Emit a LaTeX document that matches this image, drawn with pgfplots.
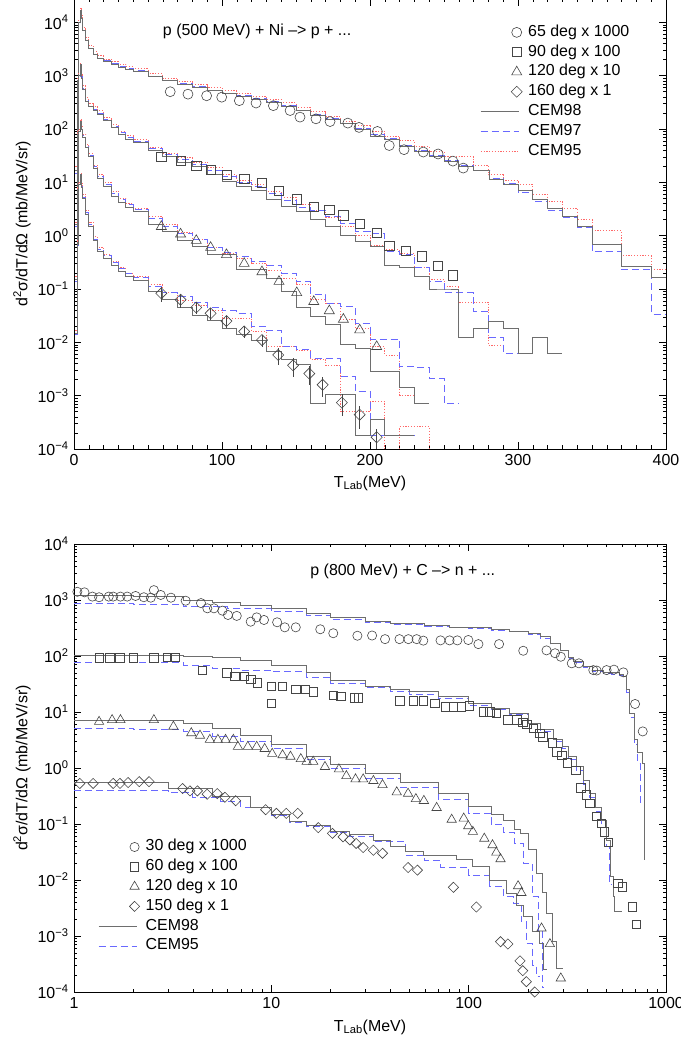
\documentclass[border=0pt]{standalone}
\usepackage{fontspec}
\setmainfont{Liberation Sans}
\usepackage{pgfplots}
\pgfplotsset{compat=1.18}
\definecolor{cgray}{RGB}{110,110,110}
\definecolor{cblue}{RGB}{105,105,255}
\definecolor{cred}{RGB}{255,105,105}
\definecolor{cmark}{RGB}{70,70,70}
\pgfplotsset{
 every axis/.append style={scale only axis, width=592bp, ymode=log, ymin=1e-4,
   ytick={1e-4,1e-3,1e-2,1e-1,1,10,100,1000,10000},
   yticklabels={10\textsuperscript{−4},10\textsuperscript{−3},10\textsuperscript{−2},10\textsuperscript{−1},10\textsuperscript{0},10\textsuperscript{1},10\textsuperscript{2},10\textsuperscript{3},10\textsuperscript{4}},
   tick align=inside, major tick length=7bp, minor tick length=3.5bp,
   tick style={black, line width=0.5bp},
   axis line style={black, line width=0.8bp},
   tick label style={font=\fontsize{16}{19}\selectfont},
   label style={font=\fontsize{16}{19}\selectfont},
   ylabel={d\textsuperscript{2}σ/dT/dΩ (mb/MeV/sr)},
   ylabel style={at={(axis description cs:-0.088,0.5)}, anchor=center},
   xlabel={T\textsubscript{Lab}(MeV)},
   legend cell align=left,
   legend style={draw=none, fill=none, inner sep=0pt, font=\fontsize{16}{19}\selectfont,
     nodes={inner sep=0pt, text height=12bp, text depth=4bp},
     row sep=3.8bp, /tikz/every odd column/.append style={column sep=6bp}},
 },
 lleg/.style={legend image code/.code={\path[draw=none,fill=none] (0bp,-6bp) rectangle (38bp,6bp); \draw[##1, #1, line width=0.8bp] (0bp,0bp) -- (38bp,0bp);}},
 mleg/.style={legend image code/.code={\path[draw=none,fill=none] (0bp,-6bp) rectangle (38bp,6bp); \draw[##1] plot coordinates {(36bp,0bp)};}},
 cemA/.style={const plot, color=cgray, line width=0.8bp, mark=none, solid},
 cemB/.style={const plot, color=cblue, line width=0.8bp, mark=none, dash pattern=on 7bp off 4bp},
 cemC/.style={const plot, color=cred, line width=0.8bp, mark=none, dash pattern=on 1.2bp off 1.6bp},
 mcirc/.style={only marks, mark=o, mark size=5bp, mark options={solid, draw=cmark, fill=none, line width=0.6bp}},
 msq/.style={only marks, mark=square, mark size=4.6bp, mark options={solid, draw=cmark, fill=none, line width=0.6bp}},
 mtri/.style={only marks, mark=triangle, mark size=5.8bp, mark options={solid, draw=cmark, fill=none, line width=0.6bp}},
 mdia/.style={only marks, mark=square, mark size=3.9bp, mark options={solid, draw=cmark, fill=none, line width=0.6bp, rotate=45}},
}
\begin{document}
\fontsize{16}{19}\selectfont
\begin{tikzpicture}[x=1bp,y=1bp]
\useasboundingbox (0,0) rectangle (681,1037);
% ================= TOP =================
\begin{axis}[at={(74bp,588bp)}, anchor=south west, height=450bp,
  xmin=0, xmax=400, ymax=27400,
  xtick={0,100,200,300,400}, xticklabels={0,100,200,300,400}, minor x tick num=9,
  xlabel style={at={(axis description cs:0.5,-0.0756)}, anchor=center},
  legend style={at={(rel axis cs:0.686,0.944)}, anchor=north west}]
\addlegendimage{mcirc, mleg}\addlegendentry{65 deg x 1000}
\addlegendimage{msq, mleg}\addlegendentry{90 deg x 100}
\addlegendimage{mtri, mleg}\addlegendentry{120 deg x 10}
\addlegendimage{mdia, mleg}\addlegendentry{160 deg x 1}
\addlegendimage{cemA, lleg={draw=cgray, solid}}\addlegendentry{CEM98}
\addlegendimage{cemB, lleg={draw=cblue, dash pattern=on 7bp off 4bp}}\addlegendentry{CEM97}
\addlegendimage{cemC, lleg={draw=cred, dash pattern=on 1.2bp off 1.6bp}}\addlegendentry{CEM95}
\node[anchor=west, inner sep=0pt, font=\fontsize{16}{19}\selectfont] at (rel axis cs:0.150,0.927) {p (500 MeV) + Ni –> p + ...};
% group 1 (65 deg x 1000)
\addplot[cemC, forget plot] coordinates {(1,20)(2,900)(3,11000)(4,18000)(5,13500)(6,8000)(8,5200)(10,3700)(13,2800)(16,2350)(20,2050)(25,1850)(30,1650)(35,1480)(40,1350)(50,1080)(60,900)(70,790)(80,680)(90,590)(100,520)(110,460)(120,410)(130,360)(140,310)(150,255)(160,210)(170,170)(180,140)(190,115)(200,92)(210,74)(220,60)(230,47)(240,38)(250,30)(260,30)(270,20.7)(280,13.9)(290,11)(300,9.0)(310,6.0)(320,4.4)(330,3.3)(340,2.0)(350,1.23)(370,0.42)(390,0.23)(400,0.23)};
\addplot[cemB, forget plot] coordinates {(1,15)(2,750)(3,9500)(4,17000)(5,12000)(6,7200)(8,4600)(10,3300)(13,2550)(16,2150)(20,1900)(25,1700)(30,1500)(35,1350)(40,1230)(50,980)(60,820)(70,720)(80,620)(90,540)(100,470)(110,420)(120,370)(130,330)(140,280)(150,225)(160,185)(170,155)(180,128)(190,103)(200,78)(210,68)(220,50)(230,40)(240,32)(250,26)(260,21)(270,17)(281,12)(290,9.5)(300,6.5)(310,4.4)(320,3.0)(330,2.2)(340,1.4)(350,0.5)(370,0.23)(390,0.034)(400,0.034)};
\addplot[cemA, forget plot] coordinates {(1,17)(2,800)(3,10000)(4,17000)(5,12000)(6,7000)(8,4500)(10,3200)(13,2500)(16,2100)(20,1850)(25,1650)(30,1450)(35,1300)(40,1200)(50,950)(60,800)(70,700)(80,600)(90,520)(100,460)(110,410)(120,360)(130,320)(140,270)(150,220)(160,180)(170,150)(180,125)(190,100)(200,74)(210,65)(220,47)(230,38)(240,31)(250,25)(260,20)(270,16.6)(281,11.5)(290,9.2)(300,7.0)(310,4.7)(320,3.2)(330,2.3)(340,1.5)(350,0.69)(370,0.26)(390,0.166)(400,0.166)};
% group 2 (90 deg x 100)
\addplot[cemC, forget plot] coordinates {(1,1.8)(2,90)(3,1100)(4,1700)(5,1050)(6,650)(8,390)(10,300)(13,260)(16,220)(20,165)(25,120)(30,92)(35,75)(40,63)(50,46)(60,35)(70,29)(80,24)(90,19)(100,14)(110,11)(120,9)(130,6.8)(140,5.2)(150,3.9)(160,3.0)(170,2.2)(180,1.5)(190,1.03)(200,0.67)(210,0.55)(220,0.46)(230,0.25)(240,0.15)(250,0.11)(260,0.057)(270,0.057)(280,0.0087)(290,0.0087)};
\addplot[cemB, forget plot] coordinates {(1,1.5)(2,75)(3,950)(4,1600)(5,950)(6,580)(8,350)(10,270)(13,235)(16,200)(20,150)(25,110)(30,85)(35,70)(40,58)(50,43)(60,33)(70,27)(80,22)(90,17)(100,13)(110,10)(120,8.5)(130,6.2)(140,4.6)(150,3.4)(160,3.0)(170,2.3)(180,1.7)(190,1.2)(200,1.1)(210,0.5)(220,0.44)(230,0.25)(240,0.14)(250,0.085)(260,0.085)(270,0.038)(280,0.0126)(290,0.0063)(310,0.0063)};
\addplot[cemA, forget plot] coordinates {(1,1.6)(2,80)(3,1000)(4,1600)(5,900)(6,550)(8,330)(10,260)(13,225)(16,190)(20,145)(25,105)(30,80)(35,65)(40,55)(50,40)(60,30)(70,24)(80,19.5)(90,14)(100,10.3)(110,8.3)(120,7.0)(130,4.8)(140,3.6)(150,2.8)(160,2.0)(170,1.5)(180,1.0)(190,0.78)(200,0.63)(210,0.28)(220,0.25)(230,0.17)(240,0.10)(250,0.10)(260,0.0126)(270,0.018)(280,0.025)(290,0.018)(300,0.0062)(310,0.0126)(320,0.0062)(330,0.0062)};
% group 3 (120 deg x 10)
\addplot[cemC, forget plot] coordinates {(1,0.17)(2,8)(3,100)(4,150)(5,115)(6,80)(8,52)(10,35)(13,21)(16,14)(20,10)(25,6.8)(30,5.1)(35,4.0)(40,3.3)(50,2.3)(60,1.6)(70,1.15)(80,0.85)(90,0.6)(100,0.47)(110,0.37)(120,0.3)(130,0.22)(140,0.16)(150,0.12)(160,0.064)(170,0.054)(180,0.027)(190,0.0183)(200,0.0083)(210,0.0058)(220,0.00103)(230,0.00103)};
\addplot[cemB, forget plot] coordinates {(1,0.14)(2,6.5)(3,85)(4,140)(5,105)(6,75)(8,48)(10,32)(13,19.5)(16,13)(20,9.3)(25,6.3)(30,4.8)(35,3.8)(40,3.1)(50,2.1)(60,1.5)(70,1.1)(80,0.85)(90,0.6)(100,0.48)(110,0.4)(120,0.33)(130,0.28)(140,0.2)(150,0.14)(160,0.08)(170,0.054)(180,0.047)(190,0.023)(200,0.0115)(210,0.0115)(220,0.0035)(230,0.0034)(240,0.0021)(250,0.00072)(260,0.00072)};
\addplot[cemA, forget plot] coordinates {(1,0.15)(2,7)(3,90)(4,140)(5,100)(6,70)(8,45)(10,30)(13,18)(16,12)(20,8.5)(25,5.5)(30,4.2)(35,3.4)(40,2.8)(50,1.6)(60,1.2)(70,0.83)(80,0.63)(90,0.44)(100,0.44)(110,0.235)(120,0.235)(130,0.158)(140,0.089)(150,0.046)(160,0.030)(170,0.022)(180,0.0093)(190,0.0077)(200,0.0028)(210,0.0028)(220,0.00144)(230,0.00072)(240,0.00072)};
% group 4 (160 deg x 1)
\addplot[cemC, forget plot] coordinates {(1,0.017)(2,0.8)(3,10)(4,15)(5,9.5)(6,6)(8,3)(10,1.8)(13,0.95)(16,0.6)(20,0.45)(25,0.33)(30,0.25)(35,0.2)(40,0.17)(50,0.12)(60,0.085)(70,0.06)(80,0.05)(90,0.04)(100,0.028)(110,0.028)(120,0.016)(130,0.0083)(140,0.0083)(150,0.0072)(160,0.0048)(170,0.0037)(180,0.0005)(190,0.0005)(200,0.00077)(210,0.00005)(220,0.00026)(230,0.00026)(240,0.00005)};
\addplot[cemB, forget plot] coordinates {(1,0.014)(2,0.65)(3,8.5)(4,14)(5,8.5)(6,5.3)(8,2.7)(10,1.6)(13,0.85)(16,0.55)(20,0.42)(25,0.31)(30,0.24)(35,0.2)(40,0.165)(50,0.11)(60,0.085)(70,0.074)(80,0.055)(90,0.045)(100,0.039)(110,0.035)(120,0.02)(130,0.017)(140,0.0085)(150,0.0075)(160,0.005)(170,0.005)(180,0.0023)(190,0.0012)(200,0.00018)(230,0.00018)};
\addplot[cemA, forget plot] coordinates {(1,0.015)(2,0.7)(3,9)(4,14)(5,8)(6,5)(8,2.5)(10,1.5)(13,0.8)(16,0.5)(20,0.38)(25,0.28)(30,0.21)(35,0.17)(40,0.145)(50,0.09)(60,0.063)(70,0.046)(80,0.032)(90,0.026)(100,0.018)(110,0.014)(120,0.011)(130,0.0067)(140,0.0047)(150,0.0038)(160,0.00072)(170,0.00107)(180,0.00107)(190,0.00018)(200,0.00036)(210,0.00018)(230,0.00018)};
% data
\addplot[mcirc, forget plot] coordinates {(65,500)(77,450)(89.6,420)(99.8,395)(111.7,340)(123,307)(134.7,274)(146,222)(152.7,167)(163.5,155)(173,138)(185,129)(192.6,107)(205,90)(213,49)(223,41)(236,37)(246,34)(256,25)(263,18.5)};
\addplot[msq, forget plot] coordinates {(59,30)(72,25.7)(82.6,20.7)(92.3,17)(103,13.8)(115,11.5)(127,9.8)(138.5,7.0)(150.5,4.8)(162,3.5)(172.5,3.1)(182,2.4)(193,1.65)(204.5,1.14)(213,0.64)(224,0.52)(235,0.41)(246,0.27)(256,0.18)};
\addplot[mtri, forget plot] coordinates {(59,1.48)(72,1.07)(82.6,0.81)(92.3,0.60)(103,0.44)(115,0.30)(127,0.21)(138.5,0.138)(150.5,0.085)(162,0.058)(172.5,0.039)(182,0.027)(193,0.017)(204.5,0.0083)};
\addplot[mdia, forget plot, error bars/y dir=both, error bars/y explicit relative, error bars/error mark=none, error bars/error bar style={cmark, line width=0.6bp}] coordinates {(59,0.083)+-(0,0.3)(72,0.063)+-(0,0.3)(82.6,0.045)+-(0,0.25)(92.3,0.035)+-(0,0.25)(103,0.025)+-(0,0.25)(115,0.016)+-(0,0.25)(127,0.011)+-(0,0.25)(138,0.0058)+-(0,0.35)(148,0.0037)+-(0,0.4)(159,0.0026)+-(0,0.4)(168,0.0016)+-(0,0.4)(181,0.00074)+-(0,0.45)(193,0.00044)+-(0,0.45)(204.5,0.000166)+-(0,0.45)};
\end{axis}
% ================= BOTTOM =================
\begin{axis}[at={(74bp,45bp)}, anchor=south west, height=448bp,
  xmode=log, xmin=1, xmax=1000, ymax=10000,
  xtick={1,10,100,1000}, xticklabels={1,10,100,1000},
  xlabel style={at={(axis description cs:0.5,-0.078)}, anchor=center},
  legend style={at={(rel axis cs:0.0405,0.342)}, anchor=north west}]
\addlegendimage{mcirc, mark size=4.6bp, mleg}\addlegendentry{30 deg x 1000}
\addlegendimage{msq, mark size=4.2bp, mleg}\addlegendentry{60 deg x 100}
\addlegendimage{mtri, mark size=5.4bp, mleg}\addlegendentry{120 deg x 10}
\addlegendimage{mdia, mark size=3.6bp, mleg}\addlegendentry{150 deg x 1}
\addlegendimage{cemA, lleg={draw=cgray, solid}}\addlegendentry{CEM98}
\addlegendimage{cemB, lleg={draw=cblue, dash pattern=on 7bp off 4bp}}\addlegendentry{CEM95}
\node[anchor=west, inner sep=0pt, font=\fontsize{16}{19}\selectfont] at (rel axis cs:0.399,0.938) {p (800 MeV) + C –> n + ...};
% group 1
\addplot[cemB, forget plot] coordinates {(1,880)(2,850)(3.6,760)(6,700)(10,620)(15,530)(20,450)(30,400)(40,365)(60,340)(80,320)(100,305)(130,290)(160,270)(200,240)(230,210)(260,165)(290,125)(320,92)(340,76)(380,62)(425,53)(480,48)(530,47)(580,45)(607,40)(630,22)(655,8)(690,2.6)(720,1.2)(740,0.24)(755,0.24)};
\addplot[cemA, forget plot] coordinates {(1,1200)(2,1150)(3.6,1000)(5,900)(7,800)(10,700)(15,580)(20,480)(30,420)(40,380)(60,350)(80,330)(100,320)(130,300)(160,280)(200,250)(230,220)(260,170)(290,128)(320,95)(340,79)(380,65)(425,56)(480,50)(530,50)(580,47)(607,43)(630,25)(655,9.6)(690,3.2)(720,1.9)(760,1.2)(775,0.023)(783,0.023)};
% group 2
\addplot[cemB, forget plot] coordinates {(1,78)(2,76)(3.6,69)(5,60)(7,56)(10,52)(15,42)(20,32)(30,27)(40,23.5)(50,21)(70,17.5)(100,13)(130,11)(160,9)(200,6)(230,4.5)(270,3)(300,2.2)(320,1.4)(350,0.9)(380,0.5)(410,0.3)(440,0.17)(470,0.1)(500,0.04)(515,0.0083)(525,0.0083)};
\addplot[cemA, forget plot] coordinates {(1,104)(3.6,100)(5,94)(7,85)(10,69)(15,50)(20,36)(30,29)(40,25)(50,23)(70,19)(100,14)(130,11.5)(160,9.5)(200,6.3)(230,4.8)(270,3.2)(300,2.4)(320,1.6)(350,1.05)(380,0.6)(410,0.35)(440,0.2)(470,0.117)(500,0.05)(520,0.0114)(540,0.005)(550,0.0027)(595,0.0027)};
% group 3
\addplot[cemB, forget plot] coordinates {(1,5.1)(2,4.9)(3.6,4.5)(5,3.7)(7,3.0)(10,2.2)(15,1.45)(20,1.0)(30,0.65)(45,0.45)(70,0.28)(100,0.155)(130,0.1)(150,0.07)(170,0.045)(190,0.02)(210,0.005)(225,0.0012)(235,0.00012)(240,0.00012)};
\addplot[cemA, forget plot] coordinates {(1,7.2)(2,7.0)(3.6,6.3)(5,5.0)(7,3.8)(10,2.6)(15,1.6)(20,1.15)(30,0.8)(45,0.55)(70,0.35)(100,0.21)(130,0.15)(150,0.117)(170,0.08)(182,0.068)(200,0.035)(220,0.0132)(235,0.006)(248,0.0025)(265,0.0008)(278,0.00026)(300,0.00026)};
% group 4
\addplot[cemB, forget plot] coordinates {(1,0.39)(3.0,0.36)(4,0.3)(5.5,0.25)(7,0.2)(10,0.14)(12.4,0.105)(15,0.09)(20,0.07)(25,0.06)(33,0.048)(48,0.028)(60,0.022)(72,0.017)(100,0.012)(128,0.0076)(150,0.005)(168,0.0039)(185,0.0018)(196,0.00074)(210,0.0003)(220,0.00019)(229,0.00019)};
\addplot[cemA, forget plot] coordinates {(1,0.56)(3.0,0.43)(5,0.31)(7.8,0.2)(10,0.15)(12.4,0.11)(15,0.095)(20,0.075)(25,0.065)(33,0.052)(40,0.04)(48,0.032)(59,0.027)(87,0.023)(105,0.0173)(128,0.01)(155,0.0058)(175,0.0035)(189,0.0022)(210,0.0012)(229,0.00074)(240,0.00025)(248,0.00025)};
% data
\addplot[mcirc, mark size=4.6bp, forget plot] coordinates {(1.04,1400)(1.13,1370)(1.24,1150)(1.34,1120)(1.5,1150)(1.58,1150)(1.72,1150)(1.86,1150)(2.05,1180)(2.26,1120)(2.45,1100)(2.54,1500)(2.75,1230)(3.1,1100)(3.68,970)(4.4,880)(4.74,710)(5.12,710)(5.65,645)(6.03,540)(6.68,520)(7.86,410)(8.43,490)(9.18,440)(10.7,400)(11.7,325)(13.3,325)(17.7,300)(20.6,255)(27.3,230)(32.4,232)(37.7,200)(44.6,200)(49.5,200)(54.5,200)(58.9,188)(72,190)(80,190)(87.6,190)(99.6,193)(112,163)(142.6,163)(189,124)(248,126)(274,112)(293,97)(333,74)(362,74)(428,56)(445,55)(500,56)(545,57)(608,51)(697,13.9)(762,4.5)};
\addplot[msq, mark size=4.2bp, forget plot] coordinates {(1.34,93)(1.52,93)(1.71,93)(2.0,93)(2.54,93)(2.97,95)(3.24,95)(4.47,56)(5.94,50)(6.54,43)(7.27,43)(7.86,38)(8.49,33)(10,29)(11.4,29)(10,14.3)(13.3,25.5)(14.9,25.5)(16.3,23)(20.6,20)(22.5,19)(26.4,18)(27.6,18)(44.8,15.8)(52.4,15.8)(58.9,15.8)(67.5,14.3)(75.9,12.4)(83.7,12.4)(91.9,12.4)(101,12.8)(118.6,10.1)(128,10)(138,9.5)(158,7.2)(175,7.2)(188,6.5)(197,6.0)(213,5.1)(229,4.2)(238,3.6)(266,2.8)(279,1.95)(296,1.7)(317,1.24)(349,0.92)(370,0.44)(395,0.33)(411,0.233)(444,0.138)(469,0.102)(488,0.073)(509,0.047)(570,0.0087)(600,0.0076)(675,0.0033)(705,0.0016)};
\addplot[mtri, mark size=5.4bp, forget plot] coordinates {(1.34,6.7)(1.56,7.2)(1.72,7.2)(2.54,7.2)(3.19,5.5)(3.93,4.2)(4.35,3.8)(4.88,3.2)(5.36,3.2)(5.86,3.2)(6.42,3.2)(6.77,2.4)(7.6,2.4)(8.43,2.4)(9.25,2.2)(10.1,1.8)(11.4,1.7)(12.5,1.6)(14.1,1.45)(15.1,1.3)(16.3,1.3)(18.7,1.05)(22,0.95)(24,0.72)(26.7,0.63)(29.2,0.63)(32.9,0.59)(36.6,0.5)(43.2,0.37)(49.3,0.35)(54,0.28)(59.3,0.26)(68.8,0.195)(82,0.12)(94.4,0.126)(99.5,0.092)(105,0.073)(120,0.055)(132,0.042)(138,0.031)(145,0.0237)(178,0.0078)(185,0.0059)(234,0.00137)(258,0.00072)(293,0.000176)};
\addplot[mdia, mark size=3.6bp, forget plot] coordinates {(1.07,0.53)(1.25,0.53)(1.58,0.53)(1.71,0.53)(1.88,0.55)(2.14,0.57)(2.4,0.57)(3.55,0.43)(3.87,0.39)(4.22,0.39)(4.73,0.34)(5.32,0.35)(5.82,0.30)(6.6,0.26)(9.36,0.18)(10.6,0.155)(11.9,0.155)(13.6,0.155)(17.3,0.086)(20.4,0.068)(23.1,0.059)(25,0.052)(26.9,0.045)(29.2,0.038)(32.9,0.034)(36.6,0.030)(49.3,0.0167)(55,0.015)(83.7,0.0074)(109.4,0.0033)(145,0.00079)(158,0.00072)(182,0.00036)(188,0.00024)(196,0.000153)(216,0.0001)};
\end{axis}
\end{tikzpicture}
\end{document}
